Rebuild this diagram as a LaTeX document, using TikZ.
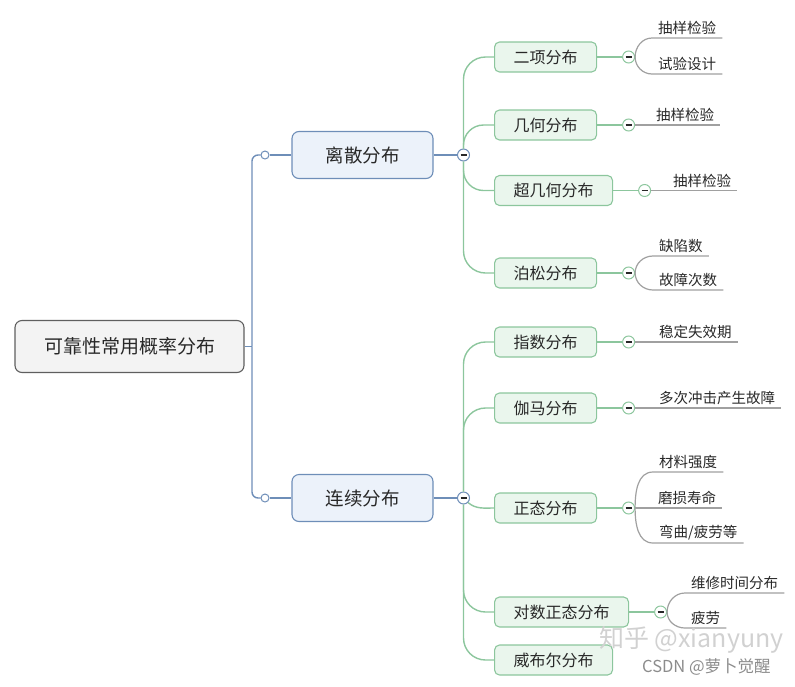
\documentclass[tikz,border=0pt]{standalone}
\usepackage{fontspec}
\setmainfont{Noto Sans CJK SC}
\usepackage{tikz}
\usetikzlibrary{positioning}
\definecolor{rootfill}{RGB}{243,243,243}
\definecolor{rootline}{RGB}{95,95,95}
\definecolor{bluefill}{RGB}{236,242,250}
\definecolor{blueline}{RGB}{110,142,184}
\definecolor{greenfill}{RGB}{234,246,237}
\definecolor{greenline}{RGB}{140,198,157}
\definecolor{leafgray}{RGB}{160,160,160}
\definecolor{textgray}{RGB}{40,40,40}
\newcommand{\fsz}[1]{\fontsize{#1}{#1}\selectfont}
\newcommand{\widthroot}{229pt}
\newcommand{\widthmain}{141pt}
\tikzset{
    common/.style={draw, rectangle, rounded corners=7pt, text=textgray, line width=1.1pt},
    rootbox/.style={common, fill=rootfill, draw=rootline, minimum width=\widthroot, minimum height=52pt, font=\fsz{19}},
    mainbox/.style={common, fill=bluefill, draw=blueline, minimum width=\widthmain, minimum height=47pt, font=\fsz{18.5}},
    subbox/.style={common, rounded corners=5pt, fill=greenfill, draw=greenline, anchor=west, minimum height=30pt, inner xsep=19pt, font=\fsz{16}},
    leaf/.style={anchor=south west, inner xsep=6pt, inner ysep=3pt, text=textgray, font=\fsz{14.5}},
    knob/.style={draw, circle, fill=white, inner sep=0pt, minimum size=12pt, line width=1pt,
        path picture={
            \draw[textgray, line width=1.6pt]
                ([xshift=-3pt]path picture bounding box.center) -- ([xshift=3pt]path picture bounding box.center);
        }
    },
    knobblue/.style={knob, draw=blueline},
    knobgreen/.style={knob, draw=greenline},
    ring/.style={draw=blueline, circle, fill=white, inner sep=0pt, minimum size=8pt, line width=1pt},
    bluelink/.style={blueline, line width=1.4pt},
    greenlink/.style={greenline, line width=1.4pt},
    leaflink/.style={leafgray, line width=1.2pt},
    forkup/.style={leaflink, out=90, in=180},
    forkdown/.style={leaflink, out=-90, in=180},
    watermark/.style={anchor=west, inner sep=0pt}
}

\begin{document}
\begin{tikzpicture}[x=1pt, y=-1pt]
    \useasboundingbox (0,0) rectangle (795,686);

    \node[rootbox] (root) at (129.5,346.5) {可靠性常用概率分布};
    \coordinate (rj) at (252,346.5);
    \node[ring] (odisc) at (265,155) {};
    \node[ring] (ocont) at (265,498) {};
    \node[mainbox] (discrete) at (362.5,155) {离散分布};
    \node[mainbox] (continuous) at (362.5,498) {连续分布};
    \node[knobblue] (mdisc) at (463.5,155) {};
    \node[knobblue] (mcont) at (463.5,498) {};

    % discrete branch
    \node[subbox] (binom) at (494,57) {二项分布};
    \node[subbox] (geom) at (494,125) {几何分布};
    \node[subbox] (hypgeom) at (494,190.5) {超几何分布};
    \node[subbox] (poisson) at (494,273) {泊松分布};
    \node[knobgreen, right=25pt of binom] (kbinom) {};
    \node[knobgreen, right=25pt of geom] (kgeom) {};
    \node[knobgreen, right=25pt of hypgeom] (khypgeom) {};
    \node[knobgreen, right=25pt of poisson] (kpoisson) {};

    % continuous branch
    \node[subbox] (expo) at (494,342) {指数分布};
    \node[subbox] (gamma) at (494,408) {伽马分布};
    \node[subbox] (normal) at (494,508) {正态分布};
    \node[subbox] (lognormal) at (494,612) {对数正态分布};
    \node[subbox] (weibull) at (494,660) {威布尔分布};
    \node[knobgreen, right=25pt of expo] (kexpo) {};
    \node[knobgreen, right=25pt of gamma] (kgamma) {};
    \node[knobgreen, right=25pt of normal] (knormal) {};
    \node[knobgreen, right=25pt of lognormal] (klognormal) {};

    % leaves
    \node[leaf] (lbinomA) at (652,38) {抽样检验};
    \node[leaf] (lbinomB) at (652,74) {试验设计};
    \node[leaf] (lgeom) at (650,125) {抽样检验};
    \node[leaf] (lhypgeom) at (667,190.5) {抽样检验};
    \node[leaf] (lpoissonA) at (653,256) {缺陷数};
    \node[leaf] (lpoissonB) at (653,290) {故障次数};
    \node[leaf] (lexpo) at (653,342) {稳定失效期};
    \node[leaf] (lgamma) at (653,408) {多次冲击产生故障};
    \node[leaf] (lnormalA) at (653,472) {材料强度};
    \node[leaf] (lnormalB) at (652,508) {磨损寿命};
    \node[leaf] (lnormalC) at (653,543) {弯曲/疲劳等};
    \node[leaf] (llognormalA) at (685,593) {维修时间分布};
    \node[leaf] (llognormalB) at (685,628) {疲劳};

    \draw[bluelink] (root.east) -- (rj);
    \draw[bluelink, rounded corners=6pt] (rj) |- (odisc.west);
    \draw[bluelink, rounded corners=6pt] (rj) |- (ocont.west);
    \draw[bluelink] (odisc.east) -- (discrete.west);
    \draw[bluelink] (ocont.east) -- (continuous.west);
    \draw[bluelink] (discrete.east) -- (mdisc.west);
    \draw[bluelink] (continuous.east) -- (mcont.west);

    \draw[greenlink, rounded corners=22pt] (mdisc.north) |- (binom.west);
    \draw[greenlink, rounded corners=20pt] (mdisc.north) |- (geom.west);
    \draw[greenlink, rounded corners=20pt] (mdisc.south) |- (hypgeom.west);
    \draw[greenlink, rounded corners=22pt] (mdisc.south) |- (poisson.west);
    \draw[greenlink, rounded corners=22pt] (mcont.north) |- (expo.west);
    \draw[greenlink, rounded corners=22pt] (mcont.north) |- (gamma.west);
    \draw[greenlink] (mcont.south east) to[out=-40, in=180] (normal.west);
    \draw[greenlink, rounded corners=22pt] (mcont.south) |- (lognormal.west);
    \draw[greenlink, rounded corners=22pt] (mcont.south) |- (weibull.west);

    \draw[greenlink] (binom.east) -- (kbinom.west);
    \draw[greenlink] (geom.east) -- (kgeom.west);
    \draw[greenlink] (hypgeom.east) -- (khypgeom.west);
    \draw[greenlink] (poisson.east) -- (kpoisson.west);
    \draw[greenlink] (expo.east) -- (kexpo.west);
    \draw[greenlink] (gamma.east) -- (kgamma.west);
    \draw[greenlink] (normal.east) -- (knormal.west);
    \draw[greenlink] (lognormal.east) -- (klognormal.west);

    \draw[forkup] (kbinom.east) to (lbinomA.south west) -- (lbinomA.south east);
    \draw[forkdown] (kbinom.east) to (lbinomB.south west) -- (lbinomB.south east);
    \draw[leaflink] (kgeom.east) -- (lgeom.south east);
    \draw[leaflink] (khypgeom.east) -- (lhypgeom.south east);
    \draw[forkup] (kpoisson.east) to (lpoissonA.south west) -- (lpoissonA.south east);
    \draw[forkdown] (kpoisson.east) to (lpoissonB.south west) -- (lpoissonB.south east);
    \draw[leaflink] (kexpo.east) -- (lexpo.south east);
    \draw[leaflink] (kgamma.east) -- (lgamma.south east);
    \draw[forkup] (knormal.east) to (lnormalA.south west) -- (lnormalA.south east);
    \draw[leaflink] (knormal.east) -- (lnormalB.south east);
    \draw[forkdown] (knormal.east) to (lnormalC.south west) -- (lnormalC.south east);
    \draw[forkup] (klognormal.east) to (llognormalA.south west) -- (llognormalA.south east);
    \draw[forkdown] (klognormal.east) to (llognormalB.south west) -- (llognormalB.south east);

    \node[watermark, text=black!18, font=\fsz{25}] (zhihu) at (599,640) {知乎 @xianyuny};
    \node[watermark, text=black!45, font=\fsz{16.5}] (csdn) at (642,667) {CSDN @萝卜觉醒};
\end{tikzpicture}
\end{document}
